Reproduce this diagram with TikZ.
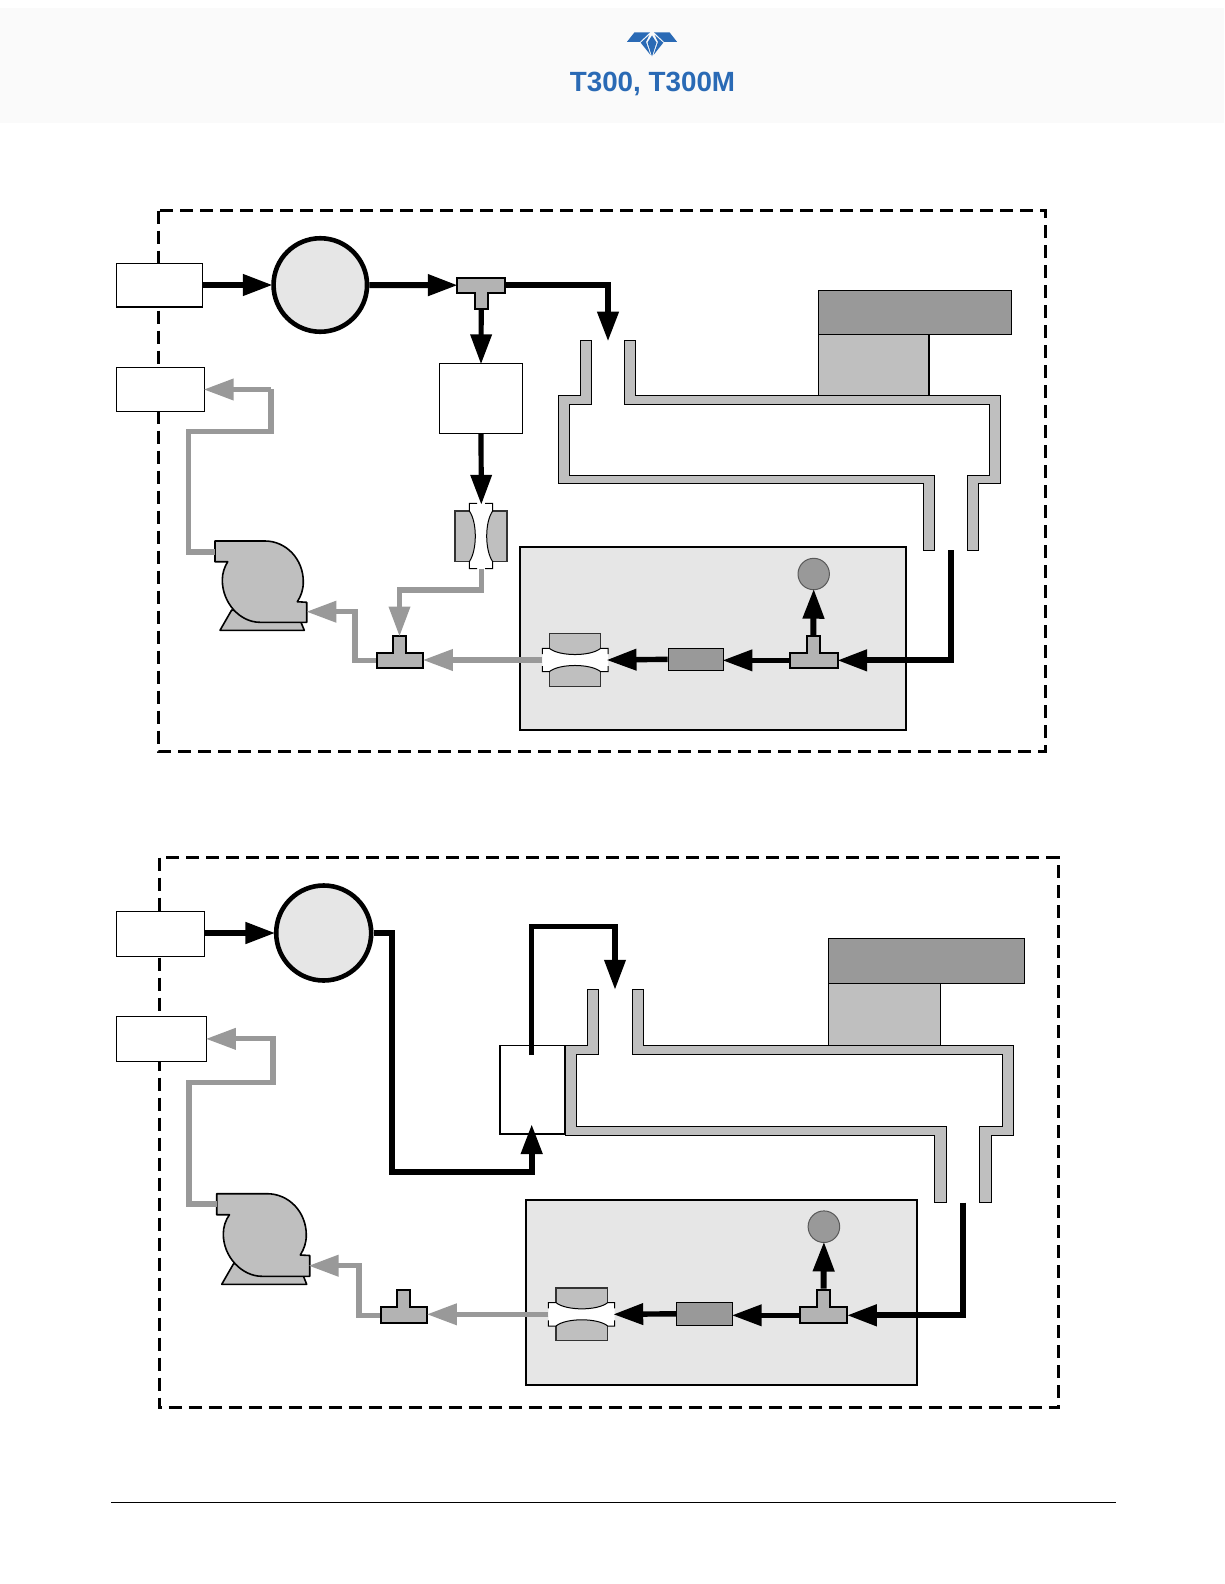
\documentclass[tikz,border=0pt]{standalone}
\usepackage{fontspec}
\setmainfont{Liberation Sans}
\usetikzlibrary{arrows.meta}
\definecolor{brand}{HTML}{2A6AB5}
\definecolor{flowgrey}{HTML}{999999}
\definecolor{wallgrey}{HTML}{BFBFBF}
\definecolor{teegrey}{HTML}{B3B3B3}
\definecolor{panelgrey}{HTML}{E6E6E6}
\definecolor{headband}{HTML}{FAFAFA}
\tikzset{
  framebox/.style={draw=black,line width=3pt,dash pattern=on 13pt off 7pt},
  whitebox/.style={draw=black,fill=white,line width=1.2pt,rectangle,inner sep=0pt},
  pumpbody/.style={draw=black,fill=wallgrey,line width=1.6pt,line join=round},
  wall/.style={draw=black,fill=wallgrey,line width=1pt},
  lampdark/.style={draw=black,fill=flowgrey,line width=1.2pt,rectangle,inner sep=0pt},
  lamplight/.style={draw=black,fill=wallgrey,line width=1.2pt,rectangle,inner sep=0pt},
  panel/.style={draw=black,fill=panelgrey,line width=2pt,rectangle,inner sep=0pt},
  filterbox/.style={draw=black,fill=flowgrey,line width=1.2pt,rectangle,inner sep=0pt},
  sensor/.style={circle,draw=black!65,fill=flowgrey,line width=1pt,inner sep=0pt},
  gasball/.style={circle,draw=black,fill=panelgrey,line width=4.6pt,inner sep=0pt},
  ghost/.style={rectangle,inner sep=0pt,outer sep=0pt},
  teeshape/.style={draw=black,fill=teegrey,line width=2pt},
  block/.style={draw=black!80,fill=wallgrey,line width=1.2pt},
  flowblack/.style={draw=black,line width=6pt,shorten >=-1.5pt,-{Triangle[length=30pt,width=20.5pt]}},
  flowblackthin/.style={draw=black,line width=5.2pt,shorten >=-1.5pt,-{Triangle[length=30pt,width=20.5pt]}},
  flowgreyline/.style={draw=flowgrey,line width=5.2pt,shorten >=-1.5pt,-{Triangle[length=30pt,width=20.5pt]}},
  logo/.style={fill=brand},
}
% name, style, x1, y1, x2, y2
\newcommand{\boxnode}[6]{%
  \pgfmathsetmacro{\cxv}{(#3+#5)/2}\pgfmathsetmacro{\cyv}{(#4+#6)/2}%
  \pgfmathsetmacro{\wdv}{abs(#5-#3)}\pgfmathsetmacro{\htv}{abs(#6-#4)}%
  \node[#2,minimum width=\wdv pt,minimum height=\htv pt] (#1) at (\cxv,\cyv) {};}
% T piece with stem upward: name, x1, x2, ybartop, ybarbot, sx1, sx2, stemtop (outer edges)
\newcommand{\teeup}[8]{%
  \draw[teeshape] (#2+1,#4+1) -- (#6+1,#4+1) -- (#6+1,#8+1) -- (#7-1,#8+1) -- (#7-1,#4+1) -- (#3-1,#4+1) -- (#3-1,#5-1) -- (#2+1,#5-1) -- cycle;
  \boxnode{#1}{ghost}{#2}{#4}{#3}{#5}
  \boxnode{#1s}{ghost}{#6}{#8}{#7}{#4}}
% T piece with stem downward
\newcommand{\teedown}[8]{%
  \draw[teeshape] (#2+1,#4+1) -- (#3-1,#4+1) -- (#3-1,#5-1) -- (#7-1,#5-1) -- (#7-1,#8-1) -- (#6+1,#8-1) -- (#6+1,#5-1) -- (#2+1,#5-1) -- cycle;
  \boxnode{#1}{ghost}{#2}{#4}{#3}{#5}
  \boxnode{#1s}{ghost}{#6}{#5}{#7}{#8}}
% horizontal restrictor: name, xa, x1, x2, xb, yc
\newcommand{\hventuri}[6]{%
  \pgfmathsetmacro{\blA}{#6-26.3}\pgfmathsetmacro{\blB}{#6+26.3}%
  \pgfmathsetmacro{\thA}{#6-11.7}\pgfmathsetmacro{\thB}{#6+11.7}%
  \pgfmathsetmacro{\cuA}{#6-3.4}\pgfmathsetmacro{\cuB}{#6+3.4}%
  \pgfmathsetmacro{\gaA}{#6-6}\pgfmathsetmacro{\gaB}{#6+6}%
  \draw[block] (#3,\blA) rectangle (#4,\blB);
  \fill[white] (#2,\thA) -- (#3,\thA) .. controls (#3+10,\cuA) and (#4-10,\cuA) .. (#4,\thA) -- (#5,\thA) -- (#5,\thB) -- (#4,\thB) .. controls (#4-10,\cuB) and (#3+10,\cuB) .. (#3,\thB) -- (#2,\thB) -- cycle;
  \draw[black,line width=1pt] (#2,\gaA) -- (#2,\thA) -- (#3,\thA) .. controls (#3+10,\cuA) and (#4-10,\cuA) .. (#4,\thA) -- (#5,\thA) -- (#5,\gaA);
  \draw[black,line width=1pt] (#2,\gaB) -- (#2,\thB) -- (#3,\thB) .. controls (#3+10,\cuB) and (#4-10,\cuB) .. (#4,\thB) -- (#5,\thB) -- (#5,\gaB);
  \boxnode{#1}{ghost}{#2}{\thA}{#5}{\thB}}
\begin{document}
\begin{tikzpicture}[x=1pt,y=-1pt]
\useasboundingbox (0,0) rectangle (1224,1584);
\fill[white] (0,0) rectangle (1224,1584);
% header
\fill[headband] (0,8) rectangle (1224,123);
\fill[logo] (627,41.8) -- (634.5,32.3) -- (650,32.3) -- (640,41.8) -- cycle;
\fill[logo] (677,41.8) -- (669.5,32.3) -- (654,32.3) -- (664,41.8) -- cycle;
\fill[logo] (640.7,42.7) -- (649.3,35) -- (646,42) -- (650.5,55) -- cycle;
\fill[logo] (663.3,42.7) -- (654.7,35) -- (658,42) -- (653.5,55) -- cycle;
\fill[logo] (652,35.5) -- (656.5,42.5) -- (652,56.5) -- (647.5,42.5) -- cycle;
\node[inner sep=0pt,anchor=base,text=brand,font=\fontsize{27.8pt}{30pt}\selectfont\bfseries] (title) at (652.5,92) {T300, T300M};
% footer rule
\coordinate (ruleL) at (111,1502.5);
\coordinate (ruleR) at (1116,1502.5);
\draw[black,line width=1pt] (ruleL) -- (ruleR);

%%%%%%%%%%%%%%%%%%%%%%% upper diagram
\draw[framebox] (158.5,210.5) rectangle (1045,751);
\boxnode{inA}{whitebox}{116.5}{263.5}{202.5}{307}
\boxnode{outA}{whitebox}{116.5}{367.5}{204.5}{411.5}
\node[gasball,minimum size=93.5pt] (ballA) at (320.3,285) {};
\boxnode{scrubA}{whitebox}{439.5}{363.5}{522.5}{433.5}
% pump
\draw[pumpbody] (220,630.3) -- (304.3,630.3) -- (301,622.3) -- (231.7,610) -- cycle;
\draw[pumpbody] (215,541) -- (265,541) .. controls (286,541) and (303.3,559) .. (303.3,581.7) .. controls (303.3,590) and (301,596) .. (297.3,601.7) -- (306.7,602.3) -- (306.7,622.3) -- (260,622.3) .. controls (240,622.3) and (222.3,603) .. (222.3,580) .. controls (222.3,573) and (224.5,567) .. (227.7,561.7) -- (215,561.7) -- cycle;
\coordinate (pumpInA) at (215,552);
\coordinate (pumpOutA) at (307.8,611.7);
% vertical restrictor
\draw[block] (455,511) rectangle (507,561.7);
\fill[white] (469.3,503.3) -- (492.7,503.3) -- (492.7,511) .. controls (484.7,522) and (484.7,550) .. (492.7,561.7) -- (492.7,568.7) -- (469.3,568.7) -- (469.3,561.7) .. controls (477.3,550) and (477.3,522) .. (469.3,511) -- cycle;
\draw[black,line width=1pt] (477,503.3) -- (469.3,503.3) -- (469.3,511) .. controls (477.3,522) and (477.3,550) .. (469.3,561.7) -- (469.3,568.7) -- (477,568.7);
\draw[black,line width=1pt] (485,503.3) -- (492.7,503.3) -- (492.7,511) .. controls (484.7,522) and (484.7,550) .. (492.7,561.7) -- (492.7,568.7) -- (485,568.7);
\boxnode{ventA}{ghost}{469.3}{503.3}{493.3}{568.7}
% gas cell
\draw[wall] (580.3,340.3) -- (591.7,340.3) -- (591.7,404.3) -- (569.3,404.3) -- (569.3,475.3) -- (934.7,475.3) -- (934.7,550.3) -- (923.3,550.3) -- (923.3,483.3) -- (558.3,483.3) -- (558.3,395.7) -- (580.3,395.7) -- cycle;
\draw[wall] (624.3,340.3) -- (635.7,340.3) -- (635.7,395.7) -- (1000.7,395.7) -- (1000.7,483.3) -- (978.7,483.3) -- (978.7,550.3) -- (967.3,550.3) -- (967.3,475.3) -- (989.7,475.3) -- (989.7,404.3) -- (624.3,404.3) -- cycle;
\boxnode{lampLA}{lamplight}{818.3}{334.3}{929}{395.7}
\boxnode{lampDA}{lampdark}{818.3}{290.3}{1011.7}{334.3}
\coordinate (cellInA) at (608,340);
\coordinate (cellOutA) at (951,550);
% optical bench panel
\boxnode{panelA}{panel}{520}{546.7}{906}{730}
\node[sensor,minimum size=31.4pt] (sensA) at (813.7,574) {};
\boxnode{filtA}{filterbox}{668.3}{648.3}{723.3}{670.3}
% tees
\teedown{teeA}{456.3}{505.7}{276.7}{293.7}{473.7}{488.7}{310}
\teeup{teeB}{375.7}{424.3}{651.7}{669}{391.7}{407.3}{635}
\teeup{teeC}{789.3}{838.7}{651.7}{669}{805.7}{821}{635}
\hventuri{ventB}{542.3}{549.3}{600.7}{608}{660}
% bends
\coordinate (b1) at (450,590);
\coordinate (b2) at (355,640);
\coordinate (b3) at (188.3,431.7);
\coordinate (b4) at (271,389);
% connectors
\draw[flowblack] (inA.east |- ballA.west) -- (ballA.west);
\draw[flowblack] (ballA.east) -- (teeA.west);
\draw[flowblack] (teeA.east) -| (cellInA);
\draw[flowblackthin] (teeAs.south) -- (scrubA.north);
\draw[flowblackthin] (scrubA.south) -- (ventA.north);
\draw[flowgreyline] (ventA.south) |- (b1) -| (teeBs.north);
\draw[flowgreyline] (ventB.west) -- (ventB.west -| teeB.east);
\draw[flowgreyline] (teeB.west) -| (b2) |- (pumpOutA);
\draw[flowgreyline] (pumpInA) -| (b3) -| (b4) |- (outA.east);
\draw[flowblack] (cellOutA) |- (teeC.east);
\draw[flowblack] (teeCs.north) -- (sensA.south);
\draw[flowblack,line width=5.4pt] (teeC.west) -- (filtA.east |- teeC.west);
\draw[flowblack,line width=5.4pt] (filtA.west) -- (ventB.east);

%%%%%%%%%%%%%%%%%%%%%%% lower diagram
\draw[framebox] (159,857.5) rectangle (1058.5,1407.8);
\boxnode{inC}{whitebox}{116.5}{911.5}{204.5}{956.2}
\boxnode{outC}{whitebox}{116.5}{1016.5}{206.7}{1061.2}
\node[gasball,minimum size=95pt] (ballC) at (323.7,933) {};
% pump
\draw[pumpbody] (221.7,1284.3) -- (306.7,1284.3) -- (303.5,1276.3) -- (233.7,1263.5) -- cycle;
\draw[pumpbody] (216.7,1193.7) -- (267,1193.7) .. controls (289,1193.7) and (306.3,1212) .. (306.3,1235) .. controls (306.3,1243) and (304,1249) .. (300.3,1255) -- (309.7,1255.5) -- (309.7,1276.3) -- (262,1276.3) .. controls (242,1276.3) and (223.3,1257) .. (223.3,1234) .. controls (223.3,1227) and (225.5,1220) .. (229.5,1214.7) -- (216.7,1214.7) -- cycle;
\coordinate (pumpInC) at (216.7,1204);
\coordinate (pumpOutC) at (310,1265.7);
% gas cell
\draw[wall] (587.3,989.3) -- (598.7,989.3) -- (598.7,1054.3) -- (576,1054.3) -- (576,1126.7) -- (946.7,1126.7) -- (946.7,1202.7) -- (934.7,1202.7) -- (934.7,1135.2) -- (565,1135.2) -- (565,1045.7) -- (587.3,1045.7) -- cycle;
\draw[wall] (632.7,989.3) -- (643.7,989.3) -- (643.7,1045.7) -- (1013.3,1045.7) -- (1013.3,1135.2) -- (991.7,1135.2) -- (991.7,1202.7) -- (979.3,1202.7) -- (979.3,1126.7) -- (1002.3,1126.7) -- (1002.3,1054.3) -- (632.7,1054.3) -- cycle;
\boxnode{lampLC}{lamplight}{828.3}{983.3}{940.3}{1045.7}
\boxnode{lampDC}{lampdark}{828.3}{938.3}{1024.3}{983.3}
\boxnode{scrubC}{whitebox}{500}{1045.7}{565}{1134}
\coordinate (cellInC) at (615,988.3);
\coordinate (cellOutC) at (963.2,1202.7);
\coordinate (scrubTop) at (531.7,1055);
% panel
\boxnode{panelC}{panel}{526}{1199.7}{917}{1385}
\node[sensor,minimum size=31.6pt] (sensC) at (823.9,1226.7) {};
\boxnode{filtC}{filterbox}{676.5}{1302.3}{732.6}{1325.3}
\teeup{teeD}{379.7}{428.3}{1306.3}{1324}{395.7}{411.3}{1288.7}
\teeup{teeE}{799.3}{848.4}{1306.3}{1324.3}{815.8}{831.2}{1288.7}
\hventuri{ventD}{548.4}{556}{607.7}{614.7}{1314.3}
% bends
\coordinate (b5) at (392,1171.7);
\coordinate (b6) at (359,1290);
\coordinate (b7) at (189,1082.3);
\coordinate (b8) at (273,1039);
\coordinate (b9) at (560,926.7);
% connectors
\draw[flowblack] (inC.east |- ballC.west) -- (ballC.west);
\draw[flowblack] (ballC.east) -| (b5) -| (scrubC.south -| scrubTop) -- ++(0,-9);
\draw[flowblack,line width=5.4pt] (scrubTop) |- (b9) -| (cellInC);
\draw[flowgreyline] (ventD.west) -- (ventD.west -| teeD.east);
\draw[flowgreyline] (teeD.west) -| (b6) |- (pumpOutC);
\draw[flowgreyline] (pumpInC) -| (b7) -| (b8) |- (outC.east);
\draw[flowblack] (cellOutC) |- (teeE.east);
\draw[flowblack] (teeEs.north) -- (sensC.south);
\draw[flowblack,line width=5.4pt] (teeE.west) -- (filtC.east |- teeE.west);
\draw[flowblack,line width=5.4pt] (filtC.west) -- (ventD.east);
\end{tikzpicture}
\end{document}
